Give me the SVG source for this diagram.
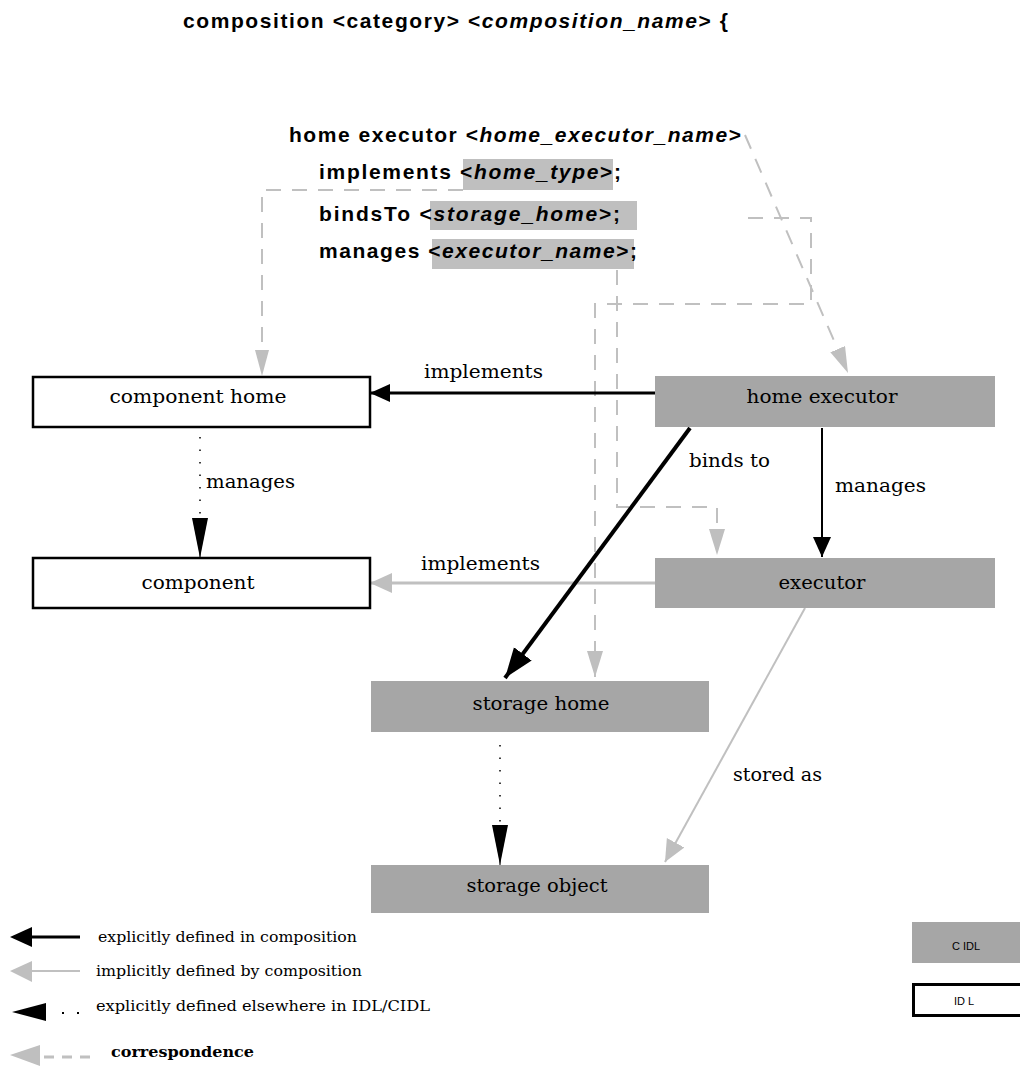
<svg xmlns="http://www.w3.org/2000/svg" width="1020" height="1070" viewBox="0 0 1020 1070">
<style>
.code{font-family:"Liberation Sans",Arial,sans-serif;font-size:21px;font-weight:bold;fill:#000}
.it{font-style:italic}
.lbl{font-family:"DejaVu Serif","Liberation Serif",serif;font-size:18px;fill:#000}
.node{font-family:"DejaVu Serif","Liberation Serif",serif;font-size:19px;fill:#000;text-anchor:middle}
.leg{font-family:"DejaVu Serif","Liberation Serif",serif;font-size:14px;fill:#000}
.idl{stroke:#000;stroke-width:2.5;fill:#fff}
.cidl{fill:#a6a6a6}
.hl{fill:#bfbfbf}
.dash{fill:none;stroke:#c0c0c0;stroke-width:2;stroke-dasharray:15,11}
.dot{fill:none;stroke:#000;stroke-width:1.5;stroke-dasharray:1.5,11}
.small{font-family:"Liberation Sans",Arial,sans-serif;font-size:11px;fill:#000;text-anchor:middle}
</style>
<defs>
<marker id="blk" markerUnits="userSpaceOnUse" markerWidth="22" markerHeight="20" refX="20" refY="9" orient="auto"><path d="M0,0 L20,9 L0,18 z" fill="#000"/></marker>
<marker id="blkL" markerUnits="userSpaceOnUse" markerWidth="42" markerHeight="18" refX="40" refY="8" orient="auto"><path d="M0,0 L40,8 L0,16 z" fill="#000"/></marker>
<marker id="blkB" markerUnits="userSpaceOnUse" markerWidth="32" markerHeight="24" refX="30" refY="11" orient="auto"><path d="M0,0 L30,11 L0,22 z" fill="#000"/></marker>
<marker id="gry" markerUnits="userSpaceOnUse" markerWidth="24" markerHeight="22" refX="22" refY="10" orient="auto"><path d="M0,0 L22,10 L0,20 z" fill="#bfbfbf"/></marker>
<marker id="gryD" markerUnits="userSpaceOnUse" markerWidth="28" markerHeight="18" refX="26" refY="8" orient="auto"><path d="M0,0 L26,8 L0,16 z" fill="#bfbfbf"/></marker>
</defs>
<rect width="1020" height="1070" fill="#fff"/>

<g id="code">
<text class="code" x="183" y="28" textLength="545" lengthAdjust="spacing">composition &lt;category&gt; &lt;<tspan class="it">composition_name</tspan>&gt; {</text>
<rect class="hl" x="463" y="159" width="150" height="31"/>
<rect class="hl" x="430" y="201" width="207" height="29"/>
<rect class="hl" x="432" y="239" width="202" height="30"/>
<text class="code" x="289" y="142" textLength="452" lengthAdjust="spacing">home executor &lt;<tspan class="it">home_executor_name</tspan>&gt;</text>
<text class="code" x="319" y="179" textLength="302" lengthAdjust="spacing">implements &lt;<tspan class="it">home_type</tspan>&gt;;</text>
<text class="code" x="319" y="221" textLength="301" lengthAdjust="spacing">bindsTo &lt;<tspan class="it">storage_home</tspan>&gt;;</text>
<text class="code" x="319" y="258" textLength="318" lengthAdjust="spacing">manages &lt;<tspan class="it">executor_name</tspan>&gt;;</text>
</g>

<g id="connectors">
<path class="dash" d="M463,190 L262,190 L262,352"/>
<path d="M262,376 L255,350 L269,350 z" fill="#bfbfbf"/>
<path class="dash" d="M745,135 L848,373" marker-end="url(#gryD)"/>
<path class="dash" d="M748,218 L811,218 L811,304 L595,304 L595,677" marker-end="url(#gryD)"/>
<path class="dash" d="M617,270 L617,507 L717,507 L717,555" marker-end="url(#gryD)"/>

<line x1="655" y1="393" x2="370" y2="393" stroke="#000" stroke-width="3" marker-end="url(#blk)"/>
<line x1="655" y1="583" x2="370" y2="583" stroke="#c0c0c0" stroke-width="3" marker-end="url(#gry)"/>
<line x1="200" y1="437" x2="200" y2="520" class="dot"/>
<line x1="200" y1="518" x2="200" y2="558" stroke="#000" stroke-width="1" marker-end="url(#blkL)"/>
<line x1="690" y1="428" x2="505" y2="678" stroke="#000" stroke-width="4" marker-end="url(#blkB)"/>
<line x1="822" y1="428" x2="822" y2="557" stroke="#000" stroke-width="2" marker-end="url(#blk)"/>
<line x1="805" y1="608" x2="665" y2="862" stroke="#c0c0c0" stroke-width="2" marker-end="url(#gry)"/>
<line x1="500" y1="745" x2="500" y2="828" class="dot"/>
<line x1="500" y1="826" x2="500" y2="865" stroke="#000" stroke-width="1" marker-end="url(#blkL)"/>

<text class="lbl" x="424" y="378" textLength="119" lengthAdjust="spacingAndGlyphs">implements</text>
<text class="lbl" x="421" y="570" textLength="119" lengthAdjust="spacingAndGlyphs">implements</text>
<text class="lbl" x="206" y="488" textLength="89" lengthAdjust="spacingAndGlyphs">manages</text>
<text class="lbl" x="689" y="467" textLength="81" lengthAdjust="spacingAndGlyphs">binds to</text>
<text class="lbl" x="835" y="492" textLength="91" lengthAdjust="spacingAndGlyphs">manages</text>
<text class="lbl" x="733" y="781" textLength="89" lengthAdjust="spacingAndGlyphs">stored as</text>
</g>

<g id="component-home">
<rect class="idl" x="33" y="377" width="337" height="50"/>
<text class="node" x="198" y="403" textLength="177" lengthAdjust="spacingAndGlyphs">component home</text>
</g>
<g id="component">
<rect class="idl" x="33" y="558" width="337" height="50"/>
<text class="node" x="198" y="589" textLength="113" lengthAdjust="spacingAndGlyphs">component</text>
</g>
<g id="home-executor">
<rect class="cidl" x="655" y="376" width="340" height="51"/>
<text class="node" x="822" y="403" textLength="151" lengthAdjust="spacingAndGlyphs">home executor</text>
</g>
<g id="executor">
<rect class="cidl" x="655" y="558" width="340" height="50"/>
<text class="node" x="822" y="589" textLength="87" lengthAdjust="spacingAndGlyphs">executor</text>
</g>
<g id="storage-home">
<rect class="cidl" x="371" y="681" width="338" height="51"/>
<text class="node" x="541" y="710" textLength="137" lengthAdjust="spacingAndGlyphs">storage home</text>
</g>
<g id="storage-object">
<rect class="cidl" x="371" y="865" width="338" height="48"/>
<text class="node" x="537" y="892" textLength="141" lengthAdjust="spacingAndGlyphs">storage object</text>
</g>

<g id="legend">
<line x1="80" y1="937" x2="30" y2="937" stroke="#000" stroke-width="3"/>
<path d="M10,937 L32,927 L32,947 z" fill="#000"/>
<text class="leg" x="98" y="942" textLength="259" lengthAdjust="spacingAndGlyphs">explicitly defined in composition</text>
<line x1="80" y1="971" x2="30" y2="971" stroke="#c0c0c0" stroke-width="2"/>
<path d="M10,971 L32,961 L32,982 z" fill="#bfbfbf"/>
<text class="leg" x="96" y="976" textLength="266" lengthAdjust="spacingAndGlyphs">implicitly defined by composition</text>
<path d="M12,1012 L46,1003 L46,1021 z" fill="#000"/>
<rect x="62" y="1012" width="2" height="2" fill="#000"/>
<rect x="77" y="1012" width="2" height="2" fill="#000"/>
<text class="leg" x="96" y="1011" textLength="334" lengthAdjust="spacingAndGlyphs">explicitly defined elsewhere in IDL/CIDL</text>
<path d="M10,1055 L40,1045 L40,1066 z" fill="#bfbfbf"/>
<line x1="44" y1="1057" x2="92" y2="1057" stroke="#c0c0c0" stroke-width="3" stroke-dasharray="10,8"/>
<text class="leg" x="111" y="1057" font-weight="bold" font-size="19" textLength="143" lengthAdjust="spacingAndGlyphs">correspondence</text>
<rect class="cidl" x="912" y="922" width="108" height="41"/>
<text class="small" x="966" y="950">C IDL</text>
<rect x="913.5" y="984.5" width="108" height="31" fill="#fff" stroke="#000" stroke-width="3"/>
<text class="small" x="964" y="1005">ID L</text>
</g>
</svg>
